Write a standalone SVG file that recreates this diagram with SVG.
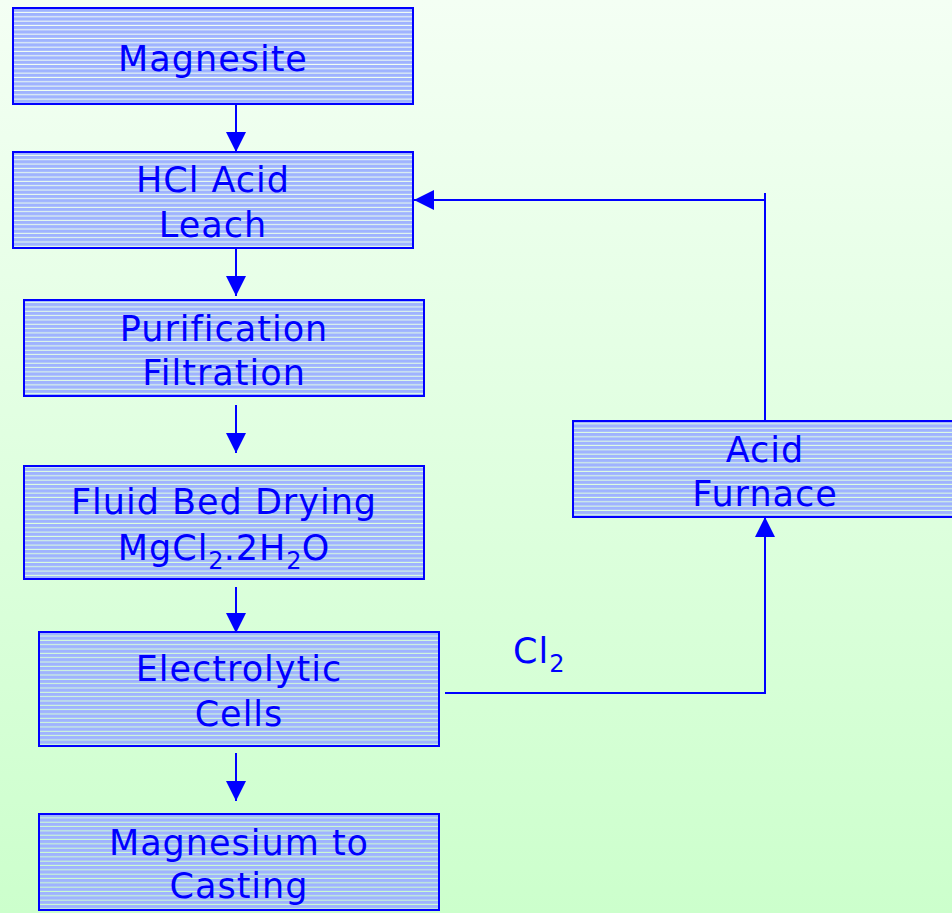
<svg xmlns="http://www.w3.org/2000/svg" width="952" height="913" viewBox="0 0 952 913">
<defs>
<linearGradient id="bg" x1="0" y1="0" x2="0" y2="1">
<stop offset="0" stop-color="#f4fff4"/>
<stop offset="1" stop-color="#ccffcc"/>
</linearGradient>
<pattern id="hatch" patternUnits="userSpaceOnUse" width="8" height="4.33">
<rect x="0" y="0" width="8" height="3.3" fill="#9fb3ff"/>
</pattern>
<marker id="ah" markerUnits="userSpaceOnUse" markerWidth="20" markerHeight="20" refX="20" refY="10" orient="auto" viewBox="0 0 20 20">
<path d="M0,0 L20,10 L0,20 z" fill="#0000ff"/>
</marker>
</defs>
<style>
.box{fill:url(#hatch);stroke:#0000ff;stroke-width:2}
.t{font-family:"DejaVu Sans",Verdana,sans-serif;font-size:35px;letter-spacing:1px;fill:#0000ff;text-anchor:middle}
.sub{font-size:24px;letter-spacing:0}
.c{fill:none;stroke:#0000ff;stroke-width:2}
</style>
<rect x="0" y="0" width="952" height="913" fill="url(#bg)"/>
<g id="connectors">
<path class="c" d="M236,104 V152" marker-end="url(#ah)"/>
<path class="c" d="M236,248 V296" marker-end="url(#ah)"/>
<path class="c" d="M236,405 V453" marker-end="url(#ah)"/>
<path class="c" d="M236,587 V633" marker-end="url(#ah)"/>
<path class="c" d="M236,753 V801" marker-end="url(#ah)"/>
<path class="c" d="M445,693 H765 V517" marker-end="url(#ah)"/>
<path class="c" d="M765,421 V193"/>
<path class="c" d="M765,200 H414" marker-end="url(#ah)"/>
<text x="513" y="663" class="t" style="text-anchor:start">Cl<tspan class="sub" dy="9">2</tspan></text>
</g>
<g id="magnesite">
<rect class="box" x="13" y="8" width="400" height="96"/>
<text class="t" x="213" y="71">Magnesite</text>
</g>
<g id="hcl-leach">
<rect class="box" x="13" y="152" width="400" height="96"/>
<text class="t" x="213" y="192">HCl Acid</text>
<text class="t" x="213" y="237">Leach</text>
</g>
<g id="purification">
<rect class="box" x="24" y="300" width="400" height="96"/>
<text class="t" x="224" y="341">Purification</text>
<text class="t" x="224" y="385">Filtration</text>
</g>
<g id="drying">
<rect class="box" x="24" y="466" width="400" height="113"/>
<text class="t" x="224" y="514">Fluid Bed Drying</text>
<text class="t" x="224" y="560">MgCl<tspan class="sub" dy="9">2</tspan><tspan dy="-9">.2H</tspan><tspan class="sub" dy="9">2</tspan><tspan dy="-9">O</tspan></text>
</g>
<g id="electrolytic">
<rect class="box" x="39" y="632" width="400" height="114"/>
<text class="t" x="239" y="681">Electrolytic</text>
<text class="t" x="239" y="726">Cells</text>
</g>
<g id="casting">
<rect class="box" x="39" y="814" width="400" height="96"/>
<text class="t" x="239" y="855">Magnesium to</text>
<text class="t" x="239" y="898">Casting</text>
</g>
<g id="acid-furnace">
<rect class="box" x="573" y="421" width="390" height="96"/>
<text class="t" x="765" y="462">Acid</text>
<text class="t" x="765" y="506">Furnace</text>
</g>
</svg>
